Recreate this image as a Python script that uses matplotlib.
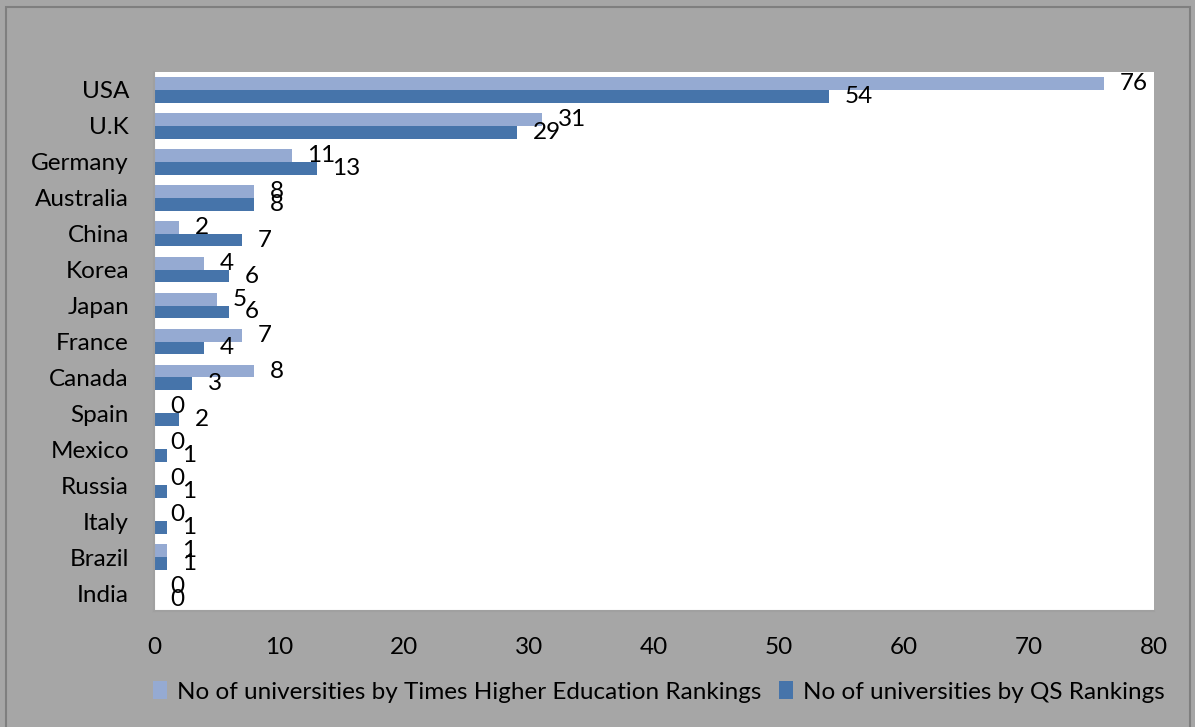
import numpy as np
import matplotlib.pyplot as plt
from matplotlib.patches import Rectangle

# Universities per country in the two rankings
countries = ['USA', 'U.K', 'Germany', 'Australia', 'China', 'Korea', 'Japan',
             'France', 'Canada', 'Spain', 'Mexico', 'Russia', 'Italy', 'Brazil', 'India']
times_counts = [76, 31, 11, 8, 2, 4, 5, 7, 8, 0, 0, 0, 0, 1, 0]
qs_counts = [54, 29, 13, 8, 7, 6, 6, 4, 3, 2, 1, 1, 1, 1, 0]
xticks = [0, 10, 20, 30, 40, 50, 60, 70, 80]

times_name = 'No of universities by Times Higher Education Rankings'
qs_name = 'No of universities by QS Rankings'

plt.rcParams['font.family'] = ['Lato', 'DejaVu Sans']

light = '#95AAD2'
dark = '#4674AA'
bg = '#A6A6A6'
fs = 17.5

fig = plt.figure(figsize=(11.95, 7.27), dpi=100)
fig.patch.set_facecolor(bg)
fig.patches.append(Rectangle((6 / 1195, -0.01), 1184 / 1195, 1 - 7 / 727 + 0.01,
                             transform=fig.transFigure, fill=False,
                             edgecolor='#7F7F7F', linewidth=1.5))

ax = fig.add_axes([154 / 1195, 1 - 611 / 727, 1000 / 1195, 539 / 727])
ax.set_facecolor('white')

y = np.arange(len(countries))
h = 0.355
ax.barh(y - h / 2, times_counts, height=h, color=light, label=times_name)
ax.barh(y + h / 2, qs_counts, height=h, color=dark, label=qs_name)

# value labels just past each bar end
for i in range(len(countries)):
    ax.annotate(str(times_counts[i]), (times_counts[i], y[i] - h / 2),
                xytext=(11.5, 0), textcoords='offset points',
                ha='left', va='center', fontsize=fs)
    ax.annotate(str(qs_counts[i]), (qs_counts[i], y[i] + h / 2),
                xytext=(11.5, 0), textcoords='offset points',
                ha='left', va='center', fontsize=fs)

ax.set_xlim(0, 80)
ax.set_ylim(len(countries) - 0.5, -0.5)
ax.set_xticks(xticks)
ax.set_yticks(y)
ax.set_yticklabels(countries)
ax.tick_params(axis='both', length=0, labelsize=fs)
ax.tick_params(axis='x', pad=19)
ax.tick_params(axis='y', pad=18)
for s in ['top', 'right']:
    ax.spines[s].set_visible(False)
for s in ['left', 'bottom']:
    ax.spines[s].set_color('#A0A0A0')
    ax.spines[s].set_linewidth(1.5)

fig.legend(loc='center left', bbox_to_anchor=(131 / 1195, 1 - 692 / 727),
           ncol=2, frameon=False, fontsize=fs, handlelength=0.6,
           handleheight=0.7, handletextpad=0.4, columnspacing=0.7)

fig.savefig('out.png', dpi=100, facecolor=bg)
